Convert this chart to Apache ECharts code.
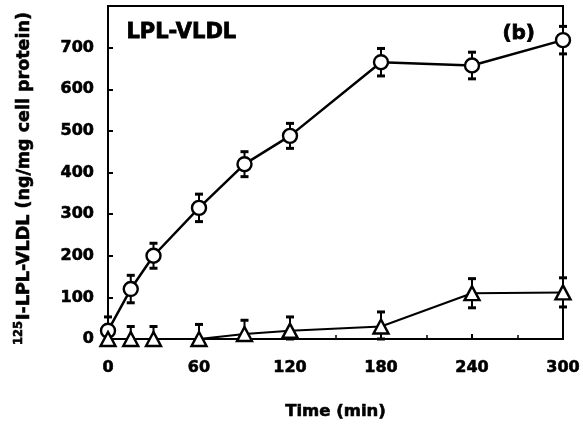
<!DOCTYPE html>
<html>
<head>
<meta charset="utf-8">
<script src="https://cdn.jsdelivr.net/npm/echarts@6/dist/echarts.min.js"></script>
<style>
html, body { margin: 0; padding: 0; background: #fff; }
#main { width: 583px; height: 431px; }
</style>
</head>
<body>
<div id="main"></div>
<script>
// time points (min)
const times = [0, 15, 30, 60, 90, 120, 180, 240, 300];
// circles
const vldl = [20, 120, 200, 315, 420, 488, 665, 657, 718];
const vldlErr = [33, 33, 30, 33, 30, 30, 33, 32, 33];
// triangles
const tri = [0, 0, 0, 0, 12, 20, 30, 110, 112];
const triErr = [0, 30, 30, 35, 33, 33, 35, 35, 35];
const xTicks = [0, 60, 120, 180, 240, 300];
const yTicks = [0, 100, 200, 300, 400, 500, 600, 700];

const font = 'DejaVu Sans';

function toPairs(ys) {
    return times.map((t, i) => [t, ys[i]]);
}
function toErr(ys, es) {
    return times.map((t, i) => [t, ys[i] - es[i], ys[i] + es[i]]);
}

// error bar with caps
function errorBar(params, api) {
    const x = api.value(0);
    const lo = api.coord([x, Math.max(api.value(1), 0)]);
    const hi = api.coord([x, api.value(2)]);
    const w = 4;
    return {
        type: 'group',
        children: [
            { type: 'line', shape: { x1: hi[0], y1: hi[1], x2: lo[0], y2: lo[1] }, style: { stroke: '#000', lineWidth: 2 } },
            { type: 'line', shape: { x1: hi[0] - w, y1: hi[1], x2: hi[0] + w, y2: hi[1] }, style: { stroke: '#000', lineWidth: 3 } },
            { type: 'line', shape: { x1: lo[0] - w, y1: lo[1], x2: lo[0] + w, y2: lo[1] }, style: { stroke: '#000', lineWidth: 3 } }
        ]
    };
}

const heavy = { color: '#000', fontFamily: font, fontWeight: 'bold', textBorderColor: '#000', textBorderWidth: 0.6 };

let chart = echarts.init(document.getElementById('main'));
chart.setOption({
    animation: false,
    backgroundColor: '#fff',
    grid: {
        left: 108, right: 19, top: 6, bottom: 92,
        show: true, borderColor: '#000', borderWidth: 2
    },
    xAxis: {
        type: 'value',
        min: 0, max: 300, interval: 60,
        axisLine: { lineStyle: { color: '#000', width: 2 } },
        axisTick: { inside: true, length: 5, lineStyle: { color: '#000', width: 2 } },
        minorTick: { show: true, splitNumber: 2, length: 4, lineStyle: { color: '#000', width: 1.5 } },
        splitLine: { show: false },
        axisLabel: Object.assign({
            margin: 21, fontSize: 16,
            formatter: v => xTicks.includes(v) ? String(v) : ''
        }, heavy),
        name: 'Time (min)',
        nameLocation: 'middle',
        nameGap: 64,
        nameTextStyle: Object.assign({ fontSize: 16.5 }, heavy)
    },
    yAxis: {
        type: 'value',
        min: 0, max: 800, interval: 100,
        axisLine: { lineStyle: { color: '#000', width: 2 } },
        axisTick: { inside: true, length: 5, lineStyle: { color: '#000', width: 2 } },
        splitLine: { show: false },
        axisLabel: Object.assign({
            margin: 14, fontSize: 16,
            formatter: v => yTicks.includes(v) ? String(v) : ''
        }, heavy),
        name: '{sup|125}{t|I-LPL-VLDL (ng/mg cell protein)}',
        nameLocation: 'middle',
        nameGap: 75,
        nameRotate: 90,
        nameTextStyle: Object.assign({
            fontSize: 17,
            padding: [0, 12, 0, 0],
            rich: {
                t: Object.assign({ fontSize: 17.5, lineHeight: 20, verticalAlign: 'bottom' }, heavy),
                sup: Object.assign({ fontSize: 11.5, lineHeight: 20, verticalAlign: 'top', padding: [0, 1, 7, 0] }, heavy)
            }
        }, heavy)
    },
    graphic: [
        { type: 'text', left: 126, top: 22, style: { text: 'LPL-VLDL', font: 'bold 21px "DejaVu Sans"', fill: '#000', stroke: '#000', lineWidth: 0.8 } },
        { type: 'text', left: 502, top: 23, style: { text: '(b)', font: 'bold 20px "DejaVu Sans"', fill: '#000', stroke: '#000', lineWidth: 0.8 } }
    ],
    series: [
        {
            type: 'custom', renderItem: errorBar, data: toErr(vldl, vldlErr), z: 1,
            encode: { x: 0, y: [1, 2] }
        },
        {
            type: 'custom', renderItem: errorBar, data: toErr(tri, triErr), z: 1,
            encode: { x: 0, y: [1, 2] }
        },
        {
            name: 'circles', type: 'line', data: toPairs(vldl), z: 3,
            symbol: 'circle', symbolSize: 14,
            lineStyle: { color: '#000', width: 2.5 },
            itemStyle: { color: '#fff', borderColor: '#000', borderWidth: 2.4 }
        },
        {
            name: 'triangles', type: 'line', data: toPairs(tri), z: 3,
            symbol: 'triangle', symbolSize: [15, 14],
            lineStyle: { color: '#000', width: 2 },
            itemStyle: { color: '#fff', borderColor: '#000', borderWidth: 2.4 }
        }
    ]
});
</script>
</body>
</html>
